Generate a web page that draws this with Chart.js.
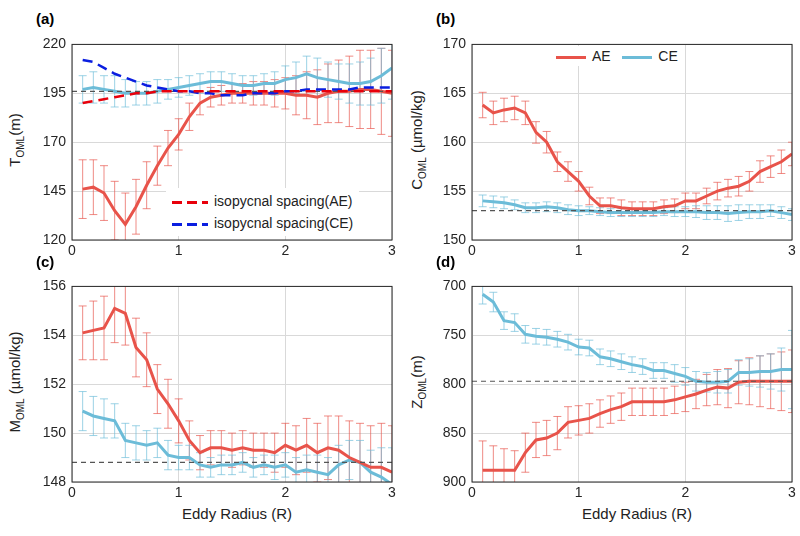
<!DOCTYPE html>
<html><head><meta charset="utf-8">
<script src="https://cdn.jsdelivr.net/npm/chart.js@4.4.1/dist/chart.umd.min.js"></script>
<style>
body{margin:0;background:#fff;font-family:"Liberation Sans",Arial,sans-serif;}
#wrap{position:relative;width:800px;height:536px;}
canvas{position:absolute;}
.lbl{position:absolute;font-size:15px;color:#222;white-space:nowrap;}
.pl{position:absolute;font-weight:bold;font-size:15px;}
.yt{position:absolute;font-size:15px;color:#222;white-space:nowrap;transform:translate(-50%,-50%) rotate(-90deg);}
.leg{position:absolute;background:#fff;font-size:14px;color:#222;padding:2px 6px;}
.leg span.s{display:inline-block;width:30px;vertical-align:middle;margin-right:6px;}
.leg span.d{display:inline-block;width:36px;height:3px;vertical-align:middle;margin-right:6px;}
sub{font-size:10px;}
</style></head><body>
<div id="wrap">
<canvas id="ca" style="left:32px;top:30px;width:368px;height:230px"></canvas>
<canvas id="cb" style="left:432px;top:30px;width:368px;height:230px"></canvas>
<canvas id="cc" style="left:32px;top:272px;width:368px;height:230px"></canvas>
<canvas id="cd" style="left:432px;top:272px;width:368px;height:230px"></canvas>
<div class="pl" style="left:36px;top:10px">(a)</div>
<div class="pl" style="left:436px;top:10px">(b)</div>
<div class="pl" style="left:36px;top:253px">(c)</div>
<div class="pl" style="left:436px;top:253px">(d)</div>
<div class="yt" style="left:16px;top:140px">T<sub>OML</sub>(m)</div>
<div class="yt" style="left:418px;top:140px">C<sub>OML</sub> (µmol/kg)</div>
<div class="yt" style="left:16px;top:382px">M<sub>OML</sub> (µmol/kg)</div>
<div class="yt" style="left:418px;top:382px">Z<sub>OML</sub>(m)</div>
<div class="lbl" style="left:182px;top:505px">Eddy Radius (R)</div>
<div class="lbl" style="left:582px;top:505px">Eddy Radius (R)</div>
<div class="leg" style="left:166px;top:188px;line-height:22px">
<div><span class="d" style="background:repeating-linear-gradient(90deg,#e8000b 0 10px,transparent 10px 15px)"></span>isopycnal spacing(AE)</div>
<div><span class="d" style="background:repeating-linear-gradient(90deg,#0a1ee0 0 10px,transparent 10px 15px)"></span>isopycnal spacing(CE)</div></div>
<div class="leg" style="left:550px;top:46px"><span class="s" style="border-top:3px solid #e8534a"></span>AE &nbsp;&nbsp;<span class="s" style="border-top:3px solid #6cbcd8"></span>CE</div>
</div>
<script>
const radius = [0.1,0.2,0.3,0.4,0.5,0.6,0.7,0.8,0.9,1.0,1.1,1.2,1.3,1.4,1.5,1.6,1.7,1.8,1.9,2.0,2.1,2.2,2.3,2.4,2.5,2.6,2.7,2.8,2.9,3.0];

const tAE = [146,147,144,135,128,137,148,158,167,174,183,190,193,194,195,195,195,195,195,195,194,194,193,195,196,196,197,197,196,195];
const tAEerr = [15,14,14,15,16,14,12,10,9,8,7,6,5,5,5,5,6,6,7,8,10,12,14,15,16,18,20,20,22,22];
const tCE = [197,198,197,196,195,195,195,196,197,198,199,200,201,201,200,199,199,200,200,202,203,205,203,202,201,200,200,201,204,208];
const tCEerr = [7,8,7,8,7,6,6,6,5,5,5,5,5,5,5,5,5,5,6,7,8,9,10,9,9,10,11,12,14,16];
const tIsoAE = [190,191,192,193,194,195,195,196,196,196,196,196,196,196,196,196,196,196,196,196,196,196,196,196,196,196,196,196,196,196];
const tIsoCE = [212,211,208,205,203,201,199,198,197,196,196,195,195,194,194,194,195,195,195,196,196,197,197,197,197,197,198,198,198,198];
const tRef = 196;

const cAE = [163.8,163,163.3,163.5,163,161,160,158,157,156,154.5,153.5,153.5,153.3,153.2,153.2,153.2,153.4,153.5,154,154,154.5,155,155.3,155.5,156,157,157.5,158,158.8];
const cAEerr = [1.3,1.2,1.2,1.2,1.2,1.1,1.1,1,1,1,0.9,0.8,0.8,0.8,0.7,0.7,0.7,0.7,0.7,0.8,0.8,0.8,0.9,0.9,1,1,1.1,1.1,1.2,1.2];
const cCE = [154,153.9,153.8,153.6,153.3,153.3,153.4,153.3,153.1,153,153,152.9,152.8,152.8,152.8,152.8,152.8,152.9,152.9,152.9,152.9,152.8,152.8,152.7,152.8,152.9,152.9,153,152.8,152.6];
const cCEerr = [0.6,0.6,0.6,0.5,0.5,0.5,0.5,0.5,0.5,0.5,0.4,0.4,0.4,0.4,0.4,0.4,0.4,0.4,0.5,0.5,0.6,0.7,0.7,0.8,0.8,0.7,0.7,0.6,0.6,0.6];
const cRef = 153;

const mAE = [154.1,154.2,154.3,155.1,154.9,153.5,153,151.8,151.2,150.5,149.7,149.2,149.4,149.4,149.3,149.4,149.3,149.3,149.2,149.5,149.3,149.5,149.2,149.4,149.3,149,148.8,148.6,148.6,148.4];
const mAEerr = [1.1,1.2,1.3,1.4,1.3,1.2,1.1,1,1,0.9,0.8,0.7,0.7,0.7,0.7,0.7,0.7,0.7,0.8,0.9,1,1.1,1.2,1.3,1.4,1.5,1.6,1.7,1.8,1.9];
const mCE = [150.9,150.7,150.6,150.5,149.7,149.6,149.5,149.6,149.1,149,149,148.7,148.6,148.7,148.7,148.8,148.6,148.7,148.6,148.7,148.4,148.5,148.4,148.3,148.7,148.9,148.8,148.4,148.2,147.9];
const mCEerr = [0.8,0.8,0.8,0.7,0.7,0.7,0.6,0.6,0.6,0.5,0.5,0.5,0.4,0.4,0.4,0.4,0.4,0.4,0.5,0.5,0.6,0.6,0.7,0.7,0.8,0.8,0.9,0.9,1.2,1.5];
const mRef = 148.8;

const zAE = [888,888,888,888,870,857,855,850,839,837,835,830,826,823,818,818,818,818,816,813,810,806,803,804,798,797,797,797,797,797];
const zAEerr = [30,25,22,20,20,18,18,17,16,15,15,14,14,14,14,14,14,14,14,15,15,16,18,20,22,24,26,28,30,32];
const zCE = [708,716,735,737,749,751,752,754,757,762,763,772,774,777,780,782,786,786,789,792,797,798,798,797,788,788,787,787,785,785];
const zCEerr = [10,10,9,9,9,8,8,8,8,8,8,8,8,8,8,8,8,8,9,9,10,10,11,12,13,14,16,18,22,40];
const zRef = 797;

const RED = "#e8534a", BLUE = "#6cbcd8";
const pts = vals => vals.map((v, i) => ({ x: radius[i], y: v }));

const errorBars = {
  id: "errorBars",
  beforeDatasetsDraw(chart) {
    const { ctx, scales: { x, y } } = chart;
    ctx.save();
    ctx.beginPath(); ctx.rect(chart.chartArea.left, chart.chartArea.top, chart.chartArea.width, chart.chartArea.height); ctx.clip();
    chart.data.datasets.forEach(ds => {
      if (!ds.errors) return;
      ctx.strokeStyle = ds.borderColor; ctx.lineWidth = 0.8; ctx.globalAlpha = 0.85;
      ds.data.forEach((p, i) => {
        const px = x.getPixelForValue(p.x);
        const a = y.getPixelForValue(p.y - ds.errors[i]), b = y.getPixelForValue(p.y + ds.errors[i]);
        ctx.beginPath();
        ctx.moveTo(px, a); ctx.lineTo(px, b);
        ctx.moveTo(px - 4, a); ctx.lineTo(px + 4, a);
        ctx.moveTo(px - 4, b); ctx.lineTo(px + 4, b);
        ctx.stroke();
      });
    });
    ctx.restore();
  },
  afterDraw(chart) {
    const { ctx, chartArea: c } = chart;
    ctx.save(); ctx.strokeStyle = "#262626"; ctx.lineWidth = 1;
    ctx.strokeRect(c.left, c.top, c.width, c.height); ctx.restore();
  }
};

function panel(id, yopt, series, ref) {
  const datasets = series.map(s => ({
    data: pts(s.v), errors: s.e, borderColor: s.c, borderWidth: s.w || 3,
    borderDash: s.dash || [], pointRadius: 0, tension: 0, order: s.o || 1
  }));
  datasets.push({ data: [{ x: 0, y: ref }, { x: 3, y: ref }], borderColor: "#555", borderWidth: 1.2, borderDash: [5, 4], pointRadius: 0, order: 0 });
  new Chart(document.getElementById(id), {
    type: "line",
    data: { datasets },
    plugins: [errorBars],
    options: {
      responsive: false, animation: false,
      layout: { padding: { top: 10, right: 8 } },
      plugins: { legend: { display: false }, tooltip: { enabled: false } },
      scales: {
        x: { type: "linear", min: 0, max: 3, border: { display: false },
             ticks: { stepSize: 1, color: "#262626", font: { size: 14, family: "Liberation Sans" } },
             grid: { color: "#d9d9d9", drawTicks: false },
             afterFit: s => { s.height = 20; } },
        y: Object.assign({ border: { display: false },
             ticks: { color: "#262626", font: { size: 14, family: "Liberation Sans" }, padding: 6 },
             grid: { color: "#d9d9d9", drawTicks: false },
             afterFit: s => { s.width = 40; } }, yopt)
      }
    }
  });
}

["ca","cb","cc","cd"].forEach(id => { const c = document.getElementById(id); c.width = 368; c.height = 230; });

panel("ca", { min: 120, max: 220, ticks: { stepSize: 25, color: "#262626", font: { size: 14 }, padding: 6 } }, [
  { v: tAE, e: tAEerr, c: RED },
  { v: tCE, e: tCEerr, c: BLUE },
  { v: tIsoAE, c: "#e8000b", w: 2.5, dash: [10, 6], o: -1 },
  { v: tIsoCE, c: "#0a1ee0", w: 2.5, dash: [10, 6], o: -1 }
], tRef);
panel("cb", { min: 150, max: 170, ticks: { stepSize: 5, color: "#262626", font: { size: 14 }, padding: 6 } }, [
  { v: cAE, e: cAEerr, c: RED },
  { v: cCE, e: cCEerr, c: BLUE }
], cRef);
panel("cc", { min: 148, max: 156, ticks: { stepSize: 2, color: "#262626", font: { size: 14 }, padding: 6 } }, [
  { v: mAE, e: mAEerr, c: RED },
  { v: mCE, e: mCEerr, c: BLUE }
], mRef);
panel("cd", { min: 700, max: 900, reverse: true, ticks: { stepSize: 50, color: "#262626", font: { size: 14 }, padding: 6 } }, [
  { v: zAE, e: zAEerr, c: RED },
  { v: zCE, e: zCEerr, c: BLUE }
], zRef);
</script>
</body></html>
